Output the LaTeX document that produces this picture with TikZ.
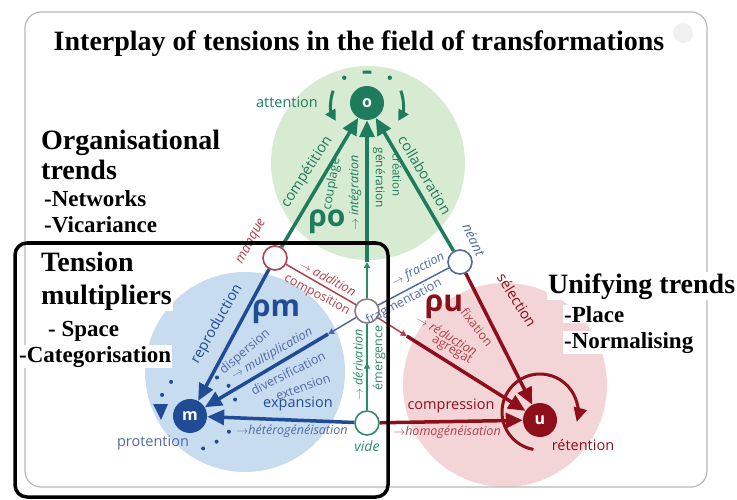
\documentclass[tikz,border=0pt]{standalone}
\usepackage{fontspec}
\setmainfont{Liberation Serif}
\newfontfamily\diagfont{Open Sans}
\usetikzlibrary{arrows.meta,calc,decorations.markings}

\definecolor{gdark}{RGB}{30,123,92}
\definecolor{glight}{RGB}{214,235,210}
\definecolor{bdark}{RGB}{31,76,148}
\definecolor{blight}{RGB}{200,220,240}
\definecolor{rdark}{RGB}{142,14,26}
\definecolor{rlight}{RGB}{243,212,215}
\definecolor{gthin}{RGB}{44,140,102}
\definecolor{bthin}{RGB}{80,105,165}
\definecolor{rthin}{RGB}{176,65,74}
\definecolor{ctrgray}{RGB}{140,125,125}

\newcommand\lblsize[1]{\fontsize{#1}{#1}\selectfont}

\begin{document}
\begin{tikzpicture}
    [x=1pt,y=-1pt,
    hub/.style={circle,minimum size=34pt,inner sep=0pt,text=white,font=\diagfont\bfseries\lblsize{16}},
    knot/.style={circle,draw,fill=white,line width=1.6pt,minimum size=24pt,inner sep=0pt},
    lbl/.style={font=\diagfont\lblsize{12.5},inner sep=0pt},
    lblbig/.style={font=\diagfont\lblsize{14.5},inner sep=0pt},
    lblit/.style={font=\diagfont\itshape\lblsize{12.5},inner sep=0pt},
    rho/.style={font=\diagfont\bfseries\lblsize{30},inner sep=0pt},
    annhead/.style={font=\bfseries\lblsize{28},fill=white,inner sep=1pt,anchor=base west},
    annitem/.style={font=\bfseries\lblsize{23},fill=white,inner sep=1pt,anchor=base west},
    fat/.style={line width=3.5pt,-{Triangle[length=17pt,width=15pt]}},
    slim/.style={line width=1.5pt},
    smalltip/.style={-{Triangle[length=6pt,width=6pt]}},
    midtip/.style={postaction={decorate},decoration={markings,
      mark=at position .55 with {\arrow{Triangle[length=6pt,width=6pt]}}}}]
    \useasboundingbox (0,0) rectangle (737,500);
    % fields
    \fill[glight] (368,163) circle[radius=97];
    \fill[blight] (245,372) circle[radius=100];
    \fill[rlight] (505,385) circle[radius=102];
    \draw[gray!55,line width=1.2pt,rounded corners=16pt] (25,12) rectangle (707,487);
    \node[circle,fill=gray!12,minimum size=20pt] (badge) at (683,33) {};
    \node[font=\bfseries\lblsize{28},anchor=base] (title) at (359,51)
      {Interplay of tensions in the field of transformations};
    % poles
    \node[hub,fill=gdark] (o) at (367,103) {o};
    \node[hub,fill=bdark] (m) at (190,416) {m};
    \node[hub,fill=rdark] (u) at (540,420) {u};
    \node[knot,draw=rthin] (manque) at (275,258) {};
    \node[knot,draw=bthin] (neant) at (460,262) {};
    \node[knot,draw=ctrgray] (ctr) at (367,311) {};
    \node[knot,draw=gthin] (vide) at (367,423) {};
    \coordinate (gj) at (367,262);
    \coordinate (bj) at ($(ctr)!.22!(m)$);
    \coordinate (rj) at ($(ctr)!.23!(u)$);
    % green
    \draw[gdark,fat] (manque) -- (o);
    \draw[gdark,fat] (gj) -- (o);
    \draw[gdark,fat] (neant) -- (o);
    \draw[gthin,slim,smalltip] (ctr) -- (gj);
    \draw[gthin,slim,midtip] (vide) -- (ctr);
    % blue
    \draw[bdark,fat] (manque) -- (m);
    \draw[bthin,slim,smalltip] (ctr) -- (bj);
    \draw[bdark,fat] (bj) -- (m);
    \draw[bdark,fat] (vide) -- (m);
    \draw[bthin,slim] (neant) -- (ctr);
    % red
    \draw[rdark,fat] (neant) -- (u);
    \draw[rthin,slim,smalltip] (ctr) -- (rj);
    \draw[rdark,fat] (rj) -- (u);
    \draw[rdark,fat] (vide) -- (u);
    \draw[rthin,slim] (manque) -- (ctr);
    % loops round the poles
    \draw[gdark,line width=3pt,-{Triangle[length=11pt,width=11pt]}]
      (o) ++(200:36) arc[start angle=200,end angle=150,radius=36];
    \draw[gdark,line width=3pt,-{Triangle[length=11pt,width=11pt]}]
      (o) ++(340:36) arc[start angle=340,end angle=390,radius=36];
    \draw[gdark,line width=3pt] (o) ++(262:31) arc[start angle=262,end angle=278,radius=31];
    \fill[gdark] (o) ++(228:34) circle[radius=2.2];
    \fill[gdark] (o) ++(312:34) circle[radius=2.2];
    \foreach \a/\r in {241/39,217/35,68/35,44/37,22/42,340/48,322/49,305/47}
      \fill[bdark] (m) ++(\a:\r) circle[radius=2];
    \fill[bdark] (m) ++(-37,-12) -- ++(15,0) -- ++(-7,16) -- cycle;
    \draw[rdark,line width=3pt,-{Triangle[length=14pt,width=13pt]}]
      (u) ++(0,-8) ++(100:38) arc[start angle=100,end angle=375,radius=38];
    % labels
    \node[lblbig,text=gdark] (attn) at (287,102) {attention};
    \node[lblbig,text=gdark,rotate=57] (compet) at (307,172) {compétition};
    \node[lbl,text=gdark,rotate=80] (coupl) at (332,184) {couplage};
    \node[lblit,text=gdark,rotate=90] (integ) at (355,193) {$\rightarrow$ intégration};
    \node[lbl,text=gdark,rotate=-90,font=\diagfont\lblsize{12}] (gener) at (379,178) {génération};
    \node[lbl,text=gdark,rotate=-90,font=\diagfont\lblsize{11.5}] (creat) at (397,175) {création};
    \node[lblbig,text=gdark,rotate=-59] (collab) at (425,175) {collaboration};
    \node[rho,text=gdark] (rhoo) at (327,222) {ρo};
    \node[lblit,text=rthin,rotate=62,font=\diagfont\itshape\lblsize{13.5}] (lmanque) at (252,242) {manque};
    \node[lblit,text=bthin,rotate=-65,font=\diagfont\itshape\lblsize{13.5}] (lneant) at (474,240) {néant};
    \node[lblit,text=gthin,font=\diagfont\itshape\lblsize{14}] (lvide) at (367,446) {vide};
    \node[lblbig,text=bdark,rotate=60] (repro) at (217,324) {reproduction};
    \node[lbl,text=bthin,rotate=40] (disp) at (245,352) {dispersion};
    \node[lblit,text=bthin,rotate=30] (multi) at (272,354) {$\rightarrow$ multiplication};
    \node[lbl,text=bthin,rotate=27] (diver) at (288,373) {diversification};
    \node[lbl,text=bthin,rotate=20] (exten) at (303,387) {extension};
    \node[lblbig,text=bdark] (expan) at (298,404) {expansion};
    \node[lblit,text=bthin] (hetero) at (292,431) {$\rightarrow$hétérogénéisation};
    \node[rho,text=bdark] (rhom) at (276,312) {ρm};
    \node[lblit,text=rthin,rotate=-28] (addit) at (328,278) {$\rightarrow$ addition};
    \node[lbl,text=rthin,rotate=-28] (compo) at (317,295) {composition};
    \node[lblit,text=bthin,rotate=28] (fract) at (418,270) {$\rightarrow$ fraction};
    \node[lbl,text=bthin,rotate=28] (fragm) at (404,302) {fragmentation};
    \node[lblit,text=gthin,rotate=90] (deriv) at (358,365) {$\rightarrow$ dérivation};
    \node[lbl,text=gthin,rotate=90] (emerg) at (379,358) {émergence};
    \node[lblbig,text=rdark,rotate=-58] (select) at (517,300) {sélection};
    \node[lbl,text=rthin,rotate=-52] (fixat) at (477,327) {fixation};
    \node[lblit,text=rthin,rotate=-31] (reduc) at (447,335) {$\rightarrow$ réduction};
    \node[lbl,text=rthin,rotate=-30] (agreg) at (452,350) {agrégat};
    \node[lblbig,text=rdark] (compr) at (451,406) {compression};
    \node[lblit,text=rthin] (homog) at (447,432) {$\rightarrow$homogénéisation};
    \node[rho,text=rdark] (rhou) at (444,307) {ρu};
    \node[lblbig,text=bthin] (proten) at (153,443) {protention};
    \node[lblbig,text=rdark] (reten) at (583,445) {rétention};
    % trends
    \node[annhead] (orga) at (40,150) {Organisational};
    \node[annhead] (orgb) at (40,180) {trends};
    \node[annitem] (netw) at (43,207) {-Networks};
    \node[annitem] (vica) at (43,233) {-Vicariance};
    \node[annhead] (tena) at (40,272) {Tension};
    \node[annhead] (tenb) at (40,304) {multipliers};
    \node[annitem] (space) at (47,336) {- Space};
    \node[annitem] (categ) at (18,362) {-Categorisation};
    \node[annhead] (unif) at (547,293) {Unifying trends};
    \node[annitem] (place) at (563,322) {-Place};
    \node[annitem] (norm) at (563,348) {-Normalising};
    \draw[line width=3.5pt,rounded corners=12pt] (15,243) rectangle (388,497);
  \end{tikzpicture}
\end{document}
